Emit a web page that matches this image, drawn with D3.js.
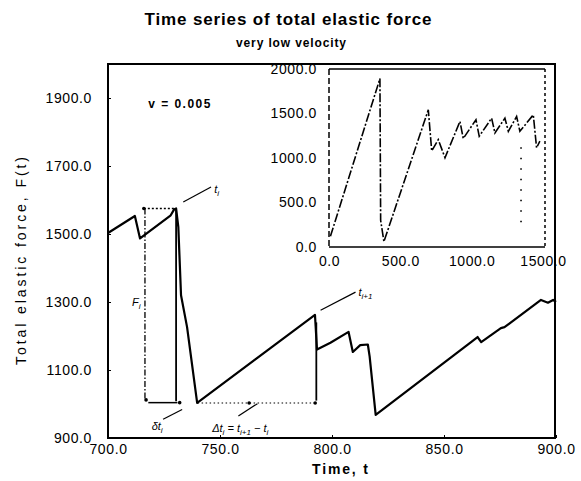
<!DOCTYPE html>
<html>
<head>
<meta charset="utf-8">
<script src="https://cdn.jsdelivr.net/npm/d3@7"></script>
<style>
  body { margin: 0; background: #fff; }
  svg { display: block; font-family: "Liberation Sans", Arial, sans-serif; }
</style>
</head>
<body>
<svg id="chart" width="581" height="481"></svg>
<script>
// main series: time t and total elastic force F(t)
var mainT = [700, 712, 714.3, 728, 729.6, 730.4, 731.4, 732.6, 735.3, 739.8,
             792.4, 793.3, 799.3, 807.4, 809.3, 812.6, 816, 816.8, 819.5,
             865, 866.6, 875.4, 877, 893.3, 896.4, 898.7, 900];
var mainF = [1503, 1553, 1487, 1555, 1573, 1575, 1520, 1320, 1226, 1003,
             1262, 1160, 1180, 1212, 1153, 1173, 1175, 1140, 968,
             1197, 1182, 1223, 1226, 1306, 1298, 1306, 1300];

// inset: whole run, 0..1500
var insetT = [10, 357, 362, 385, 696, 720, 766, 813, 918, 941, 1030, 1053,
              1140, 1163, 1233, 1257, 1315, 1338, 1432, 1455, 1478];
var insetF = [120, 1892, 300, 60, 1541, 1078, 1207, 1003, 1411, 1219, 1430, 1244,
              1448, 1281, 1448, 1300, 1467, 1300, 1485, 1114, 1190];
var insetDotT = [1346, 1346];
var insetDotF = [1120, 250];

var xTicks = [700, 750, 800, 850, 900];
var yTicks = [900, 1100, 1300, 1500, 1700, 1900];
var xiTicks = [0, 500, 1000, 1500];
var yiTicks = [0, 500, 1000, 1500, 2000];

// event annotation (time, force)
var refTop = [[716, 1575], [730, 1575]];
var refDrop = [[716.5, 1575], [716.5, 1012]];
var refMarkI = [[730.4, 1575], [730.4, 1008]];
var refBottomSolid = [[718, 1004], [731, 1004]];
var refBottomDot = [[740, 1003], [792.5, 1003]];
var refMarkNext = [[793, 1240], [793, 1010]];
var leadTi = [[733.6, 1594], [746, 1638]];
var leadTnext = [[794.9, 1276], [810.5, 1329]];
var leadDt = [[733.1, 984], [724.6, 955]];
var leadDT = [[766.7, 1001], [758.2, 965]];
var dots = [[716, 1575], [717, 1012], [732, 1004], [763, 1003], [792.5, 1003]];

var svg = d3.select("#chart");

var x = d3.scaleLinear().domain([700, 900]).range([108, 556]);
var y = d3.scaleLinear().domain([900, 2000]).range([438, 64]);
var xi = d3.scaleLinear().domain([0, 1500]).range([329, 543]);
var yi = d3.scaleLinear().domain([0, 2000]).range([247, 69]);

var line = d3.line().x(function(d) { return x(d[0]); }).y(function(d) { return y(d[1]); });
var lineI = d3.line().x(function(d) { return xi(d[0]); }).y(function(d) { return yi(d[1]); });

// titles
svg.append("text")
    .attr("x", 288).attr("y", 25)
    .attr("text-anchor", "middle")
    .attr("font-weight", "bold")
    .attr("font-size", 17)
    .attr("textLength", 287)
    .text("Time series of total elastic force");

svg.append("text")
    .attr("x", 291).attr("y", 47)
    .attr("text-anchor", "middle")
    .attr("font-weight", "bold")
    .attr("font-size", 12)
    .attr("textLength", 110)
    .text("very low velocity");

// axes
var xAxis = svg.append("g")
    .attr("transform", "translate(0," + y(900) + ")")
    .call(d3.axisBottom(x).tickValues(xTicks).tickFormat(d3.format(".1f")).tickSize(-3).tickPadding(6));

var yAxis = svg.append("g")
    .attr("transform", "translate(" + x(700) + ",0)")
    .call(d3.axisLeft(y).tickValues(yTicks).tickFormat(d3.format(".1f")).tickSize(-3).tickPadding(16));

[xAxis, yAxis].forEach(function(a) {
    a.select(".domain").remove();
    a.selectAll("text").attr("font-size", 14).attr("fill", "#000").style("letter-spacing", "0.6px");
    a.selectAll("line").attr("stroke", "#000");
});

// frame
svg.append("rect")
    .attr("x", x(700)).attr("y", y(2000))
    .attr("width", x(900) - x(700) - 1).attr("height", y(900) - y(2000))
    .attr("fill", "none").attr("stroke", "#000").attr("stroke-width", 2);

// axis titles
svg.append("text")
    .attr("x", 340).attr("y", 474)
    .attr("text-anchor", "middle")
    .attr("font-weight", "bold")
    .attr("font-size", 14)
    .attr("textLength", 56)
    .text("Time, t");

svg.append("text")
    .attr("transform", "translate(26,261) rotate(-90)")
    .attr("text-anchor", "middle")
    .attr("font-size", 14)
    .attr("textLength", 208)
    .text("Total elastic force, F(t)");

svg.append("text")
    .attr("x", x(718)).attr("y", y(1871))
    .attr("font-size", 12)
    .attr("font-weight", "bold")
    .attr("textLength", 62)
    .text("v = 0.005");

// inset
var inset = svg.append("g");

var xiAxis = inset.append("g")
    .attr("transform", "translate(0," + yi(0) + ")")
    .call(d3.axisBottom(xi).tickValues(xiTicks).tickFormat(d3.format(".1f")).tickSize(0).tickPadding(9));
var yiAxis = inset.append("g")
    .attr("transform", "translate(" + xi(0) + ",0)")
    .call(d3.axisLeft(yi).tickValues(yiTicks).tickFormat(d3.format(".1f")).tickSize(0).tickPadding(12));
[xiAxis, yiAxis].forEach(function(a) {
    a.select(".domain").remove();
    a.selectAll("text").attr("font-size", 14).attr("fill", "#000").style("letter-spacing", "0.6px");
});

inset.append("line")
    .attr("x1", xi(0)).attr("x2", xi(1500) + 2).attr("y1", yi(2000)).attr("y2", yi(2000))
    .attr("stroke", "#000").attr("stroke-width", 1.5);
inset.append("line")
    .attr("x1", xi(0)).attr("x2", xi(1500) + 2).attr("y1", yi(0)).attr("y2", yi(0))
    .attr("stroke", "#000").attr("stroke-width", 1.5);
inset.append("line")
    .attr("x1", xi(0)).attr("x2", xi(0)).attr("y1", yi(2000)).attr("y2", yi(0))
    .attr("stroke", "#000").attr("stroke-width", 1.5).attr("stroke-dasharray", "6,3");
inset.append("line")
    .attr("x1", xi(1500) + 2).attr("x2", xi(1500) + 2).attr("y1", yi(2000)).attr("y2", yi(0))
    .attr("stroke", "#000").attr("stroke-width", 1.5).attr("stroke-dasharray", "3,3");

inset.append("path")
    .datum(insetT.map(function(t, i) { return [t, insetF[i]]; }))
    .attr("d", lineI)
    .attr("fill", "none").attr("stroke", "#000").attr("stroke-width", 1.6)
    .attr("stroke-dasharray", "9,2,2,2");

inset.append("path")
    .datum(insetDotT.map(function(t, i) { return [t, insetDotF[i]]; }))
    .attr("d", lineI)
    .attr("fill", "none").attr("stroke", "#000").attr("stroke-width", 1.6)
    .attr("stroke-dasharray", "1.5,9");

// annotation lines
function ann(pts, width, dash) {
    svg.append("path")
        .datum(pts)
        .attr("d", line)
        .attr("fill", "none").attr("stroke", "#000")
        .attr("stroke-width", width)
        .attr("stroke-dasharray", dash);
}
ann(refTop, 1.3, "2,2");
ann(refDrop, 1.3, "6,2,1.5,2");
ann(refMarkI, 1.8, null);
ann(refBottomSolid, 1.5, null);
ann(refBottomDot, 1.2, "1.5,2.5");
ann(refMarkNext, 1.8, null);
ann(leadTi, 1.2, null);
ann(leadTnext, 1.2, null);
ann(leadDt, 1.2, null);
ann(leadDT, 1.2, null);

svg.selectAll(".dot")
    .data(dots)
    .enter().append("circle")
    .attr("class", "dot")
    .attr("cx", function(d) { return x(d[0]); })
    .attr("cy", function(d) { return y(d[1]); })
    .attr("r", 1.8);

// main curve
svg.append("path")
    .datum(mainT.map(function(t, i) { return [t, mainF[i]]; }))
    .attr("d", line)
    .attr("fill", "none").attr("stroke", "#000").attr("stroke-width", 2.2)
    .attr("stroke-linejoin", "round");

// annotation labels with subscripts
function label(t, f, parts) {
    var txt = svg.append("text")
        .attr("x", x(t)).attr("y", y(f))
        .attr("font-size", 11)
        .attr("font-style", "italic");
    parts.forEach(function(p) {
        txt.append("tspan")
            .attr("font-size", p[1] ? 8 : 11)
            .attr("baseline-shift", p[1] ? "-3" : "0")
            .text(p[0]);
    });
}
label(747.4, 1622, [["t", 0], ["i", 1]]);
label(811.8, 1318, [["t", 0], ["i+1", 1]]);
label(710.7, 1288, [["F", 0], ["i", 1]]);
label(719.5, 924, [["\u03b4t", 0], ["i", 1]]);
label(746.5, 918, [["\u0394t", 0], ["i", 1], [" = t", 0], ["i+1", 1], [" \u2212 t", 0], ["i", 1]]);
</script>
</body>
</html>
